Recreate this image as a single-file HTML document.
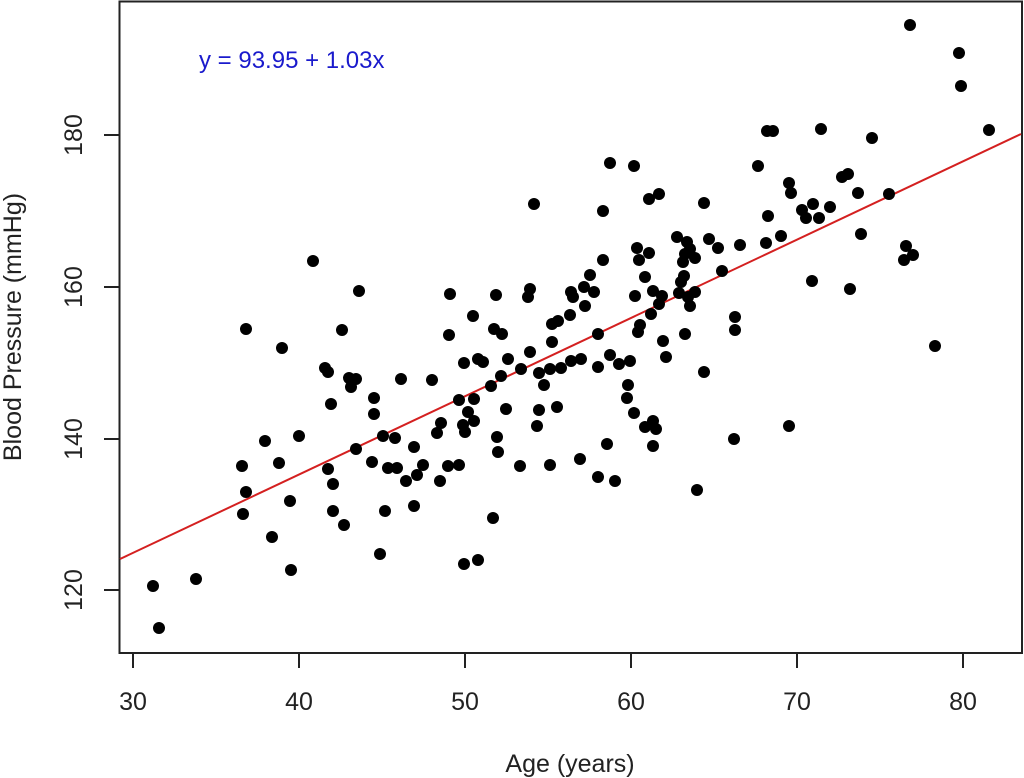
<!DOCTYPE html>
<html><head><meta charset="utf-8"><style>
html,body{margin:0;padding:0;background:#fff;}
svg{display:block;font-family:"Liberation Sans",Arial,sans-serif;}
</style></head><body>
<svg width="1024" height="778" viewBox="0 0 1024 778" xmlns="http://www.w3.org/2000/svg">
<rect width="1024" height="778" fill="#fff"/>
<rect x="119.5" y="1.5" width="902.5" height="651.5" fill="none" stroke="#222" stroke-width="2"/>
<g stroke="#222" stroke-width="2">
<line x1="133" y1="653" x2="133" y2="668"/><line x1="299" y1="653" x2="299" y2="668"/><line x1="465" y1="653" x2="465" y2="668"/><line x1="631" y1="653" x2="631" y2="668"/><line x1="797" y1="653" x2="797" y2="668"/><line x1="963" y1="653" x2="963" y2="668"/>
<line x1="104" y1="590" x2="119" y2="590"/><line x1="104" y1="439" x2="119" y2="439"/><line x1="104" y1="287" x2="119" y2="287"/><line x1="104" y1="135" x2="119" y2="135"/>
</g>
<g font-size="25" fill="#222" text-anchor="middle">
<text x="133" y="710">30</text><text x="299" y="710">40</text><text x="465" y="710">50</text><text x="631" y="710">60</text><text x="797" y="710">70</text><text x="963" y="710">80</text>
<text transform="translate(82,590) rotate(-90)">120</text>
<text transform="translate(82,439) rotate(-90)">140</text>
<text transform="translate(82,287) rotate(-90)">160</text>
<text transform="translate(82,135) rotate(-90)">180</text>
<text x="570" y="772">Age (years)</text>
<text transform="translate(21,327) rotate(-90)">Blood Pressure (mmHg)</text>
</g>
<text x="199" y="68" font-size="24" fill="#1a1acc">y = 93.95 + 1.03x</text>
<line x1="120" y1="559" x2="1021" y2="134" stroke="#d42020" stroke-width="2"/>
<g fill="#000">
<circle cx="313" cy="261" r="6"/><circle cx="359" cy="291" r="6"/><circle cx="246" cy="329" r="6"/><circle cx="342" cy="330" r="6"/><circle cx="282" cy="348" r="6"/><circle cx="325" cy="368" r="6"/><circle cx="328" cy="372" r="6"/><circle cx="349" cy="378" r="6"/><circle cx="356" cy="379" r="6"/><circle cx="351" cy="387" r="6"/><circle cx="401" cy="379" r="6"/><circle cx="374" cy="398" r="6"/><circle cx="331" cy="404" r="6"/><circle cx="374" cy="414" r="6"/><circle cx="299" cy="436" r="6"/><circle cx="265" cy="441" r="6"/><circle cx="383" cy="436" r="6"/><circle cx="395" cy="438" r="6"/><circle cx="356" cy="449" r="6"/><circle cx="242" cy="466" r="6"/><circle cx="279" cy="463" r="6"/><circle cx="328" cy="469" r="6"/><circle cx="372" cy="462" r="6"/><circle cx="388" cy="468" r="6"/><circle cx="397" cy="468" r="6"/><circle cx="406" cy="481" r="6"/><circle cx="246" cy="492" r="6"/><circle cx="333" cy="484" r="6"/><circle cx="290" cy="501" r="6"/><circle cx="243" cy="514" r="6"/><circle cx="333" cy="511" r="6"/><circle cx="385" cy="511" r="6"/><circle cx="344" cy="525" r="6"/><circle cx="272" cy="537" r="6"/><circle cx="380" cy="554" r="6"/><circle cx="196" cy="579" r="6"/><circle cx="153" cy="586" r="6"/><circle cx="291" cy="570" r="6"/><circle cx="159" cy="628" r="6"/>
<circle cx="534" cy="204" r="6"/><circle cx="590" cy="275" r="6"/><circle cx="450" cy="294" r="6"/><circle cx="496" cy="295" r="6"/><circle cx="530" cy="289" r="6"/><circle cx="528" cy="297" r="6"/><circle cx="571" cy="292" r="6"/><circle cx="573" cy="297" r="6"/><circle cx="584" cy="287" r="6"/><circle cx="594" cy="292" r="6"/><circle cx="585" cy="306" r="6"/><circle cx="570" cy="315" r="6"/><circle cx="473" cy="316" r="6"/><circle cx="552" cy="324" r="6"/><circle cx="558" cy="321" r="6"/><circle cx="449" cy="335" r="6"/><circle cx="494" cy="329" r="6"/><circle cx="502" cy="334" r="6"/><circle cx="598" cy="334" r="6"/><circle cx="552" cy="342" r="6"/><circle cx="530" cy="352" r="6"/><circle cx="464" cy="363" r="6"/><circle cx="478" cy="359" r="6"/><circle cx="483" cy="362" r="6"/><circle cx="508" cy="359" r="6"/><circle cx="571" cy="361" r="6"/><circle cx="581" cy="359" r="6"/><circle cx="598" cy="367" r="6"/><circle cx="521" cy="369" r="6"/><circle cx="539" cy="373" r="6"/><circle cx="550" cy="369" r="6"/><circle cx="561" cy="368" r="6"/><circle cx="432" cy="380" r="6"/><circle cx="501" cy="376" r="6"/><circle cx="491" cy="386" r="6"/><circle cx="544" cy="385" r="6"/><circle cx="459" cy="400" r="6"/><circle cx="474" cy="399" r="6"/><circle cx="506" cy="409" r="6"/><circle cx="539" cy="410" r="6"/><circle cx="557" cy="407" r="6"/><circle cx="441" cy="423" r="6"/><circle cx="468" cy="412" r="6"/><circle cx="463" cy="425" r="6"/><circle cx="474" cy="421" r="6"/><circle cx="465" cy="432" r="6"/><circle cx="437" cy="433" r="6"/><circle cx="537" cy="426" r="6"/><circle cx="414" cy="447" r="6"/><circle cx="497" cy="437" r="6"/><circle cx="498" cy="452" r="6"/><circle cx="423" cy="465" r="6"/><circle cx="417" cy="475" r="6"/><circle cx="448" cy="466" r="6"/><circle cx="459" cy="465" r="6"/><circle cx="440" cy="481" r="6"/><circle cx="520" cy="466" r="6"/><circle cx="550" cy="465" r="6"/><circle cx="580" cy="459" r="6"/><circle cx="598" cy="477" r="6"/><circle cx="414" cy="506" r="6"/><circle cx="493" cy="518" r="6"/><circle cx="464" cy="564" r="6"/><circle cx="478" cy="560" r="6"/>
<circle cx="610" cy="163" r="6"/><circle cx="634" cy="166" r="6"/><circle cx="649" cy="199" r="6"/><circle cx="659" cy="194" r="6"/><circle cx="704" cy="203" r="6"/><circle cx="603" cy="211" r="6"/><circle cx="677" cy="237" r="6"/><circle cx="687" cy="242" r="6"/><circle cx="690" cy="249" r="6"/><circle cx="709" cy="239" r="6"/><circle cx="718" cy="248" r="6"/><circle cx="637" cy="248" r="6"/><circle cx="649" cy="253" r="6"/><circle cx="639" cy="260" r="6"/><circle cx="603" cy="260" r="6"/><circle cx="685" cy="254" r="6"/><circle cx="683" cy="262" r="6"/><circle cx="695" cy="258" r="6"/><circle cx="645" cy="277" r="6"/><circle cx="684" cy="276" r="6"/><circle cx="681" cy="282" r="6"/><circle cx="722" cy="271" r="6"/><circle cx="635" cy="296" r="6"/><circle cx="653" cy="291" r="6"/><circle cx="662" cy="296" r="6"/><circle cx="659" cy="304" r="6"/><circle cx="679" cy="293" r="6"/><circle cx="688" cy="297" r="6"/><circle cx="695" cy="292" r="6"/><circle cx="690" cy="306" r="6"/><circle cx="651" cy="314" r="6"/><circle cx="640" cy="325" r="6"/><circle cx="638" cy="332" r="6"/><circle cx="685" cy="334" r="6"/><circle cx="663" cy="341" r="6"/><circle cx="666" cy="357" r="6"/><circle cx="610" cy="355" r="6"/><circle cx="619" cy="364" r="6"/><circle cx="630" cy="361" r="6"/><circle cx="704" cy="372" r="6"/><circle cx="628" cy="385" r="6"/><circle cx="627" cy="398" r="6"/><circle cx="634" cy="413" r="6"/><circle cx="645" cy="427" r="6"/><circle cx="653" cy="421" r="6"/><circle cx="656" cy="429" r="6"/><circle cx="607" cy="444" r="6"/><circle cx="653" cy="446" r="6"/><circle cx="615" cy="481" r="6"/><circle cx="697" cy="490" r="6"/>
<circle cx="910" cy="25" r="6"/><circle cx="959" cy="53" r="6"/><circle cx="961" cy="86" r="6"/><circle cx="989" cy="130" r="6"/><circle cx="767" cy="131" r="6"/><circle cx="773" cy="131" r="6"/><circle cx="821" cy="129" r="6"/><circle cx="872" cy="138" r="6"/><circle cx="758" cy="166" r="6"/><circle cx="789" cy="183" r="6"/><circle cx="791" cy="193" r="6"/><circle cx="842" cy="177" r="6"/><circle cx="848" cy="174" r="6"/><circle cx="858" cy="193" r="6"/><circle cx="889" cy="194" r="6"/><circle cx="768" cy="216" r="6"/><circle cx="802" cy="210" r="6"/><circle cx="806" cy="218" r="6"/><circle cx="813" cy="204" r="6"/><circle cx="819" cy="218" r="6"/><circle cx="830" cy="207" r="6"/><circle cx="861" cy="234" r="6"/><circle cx="781" cy="236" r="6"/><circle cx="766" cy="243" r="6"/><circle cx="740" cy="245" r="6"/><circle cx="906" cy="246" r="6"/><circle cx="913" cy="255" r="6"/><circle cx="904" cy="260" r="6"/><circle cx="812" cy="281" r="6"/><circle cx="850" cy="289" r="6"/><circle cx="735" cy="317" r="6"/><circle cx="735" cy="330" r="6"/><circle cx="935" cy="346" r="6"/><circle cx="789" cy="426" r="6"/><circle cx="734" cy="439" r="6"/>
</g>
</svg>
</body></html>
